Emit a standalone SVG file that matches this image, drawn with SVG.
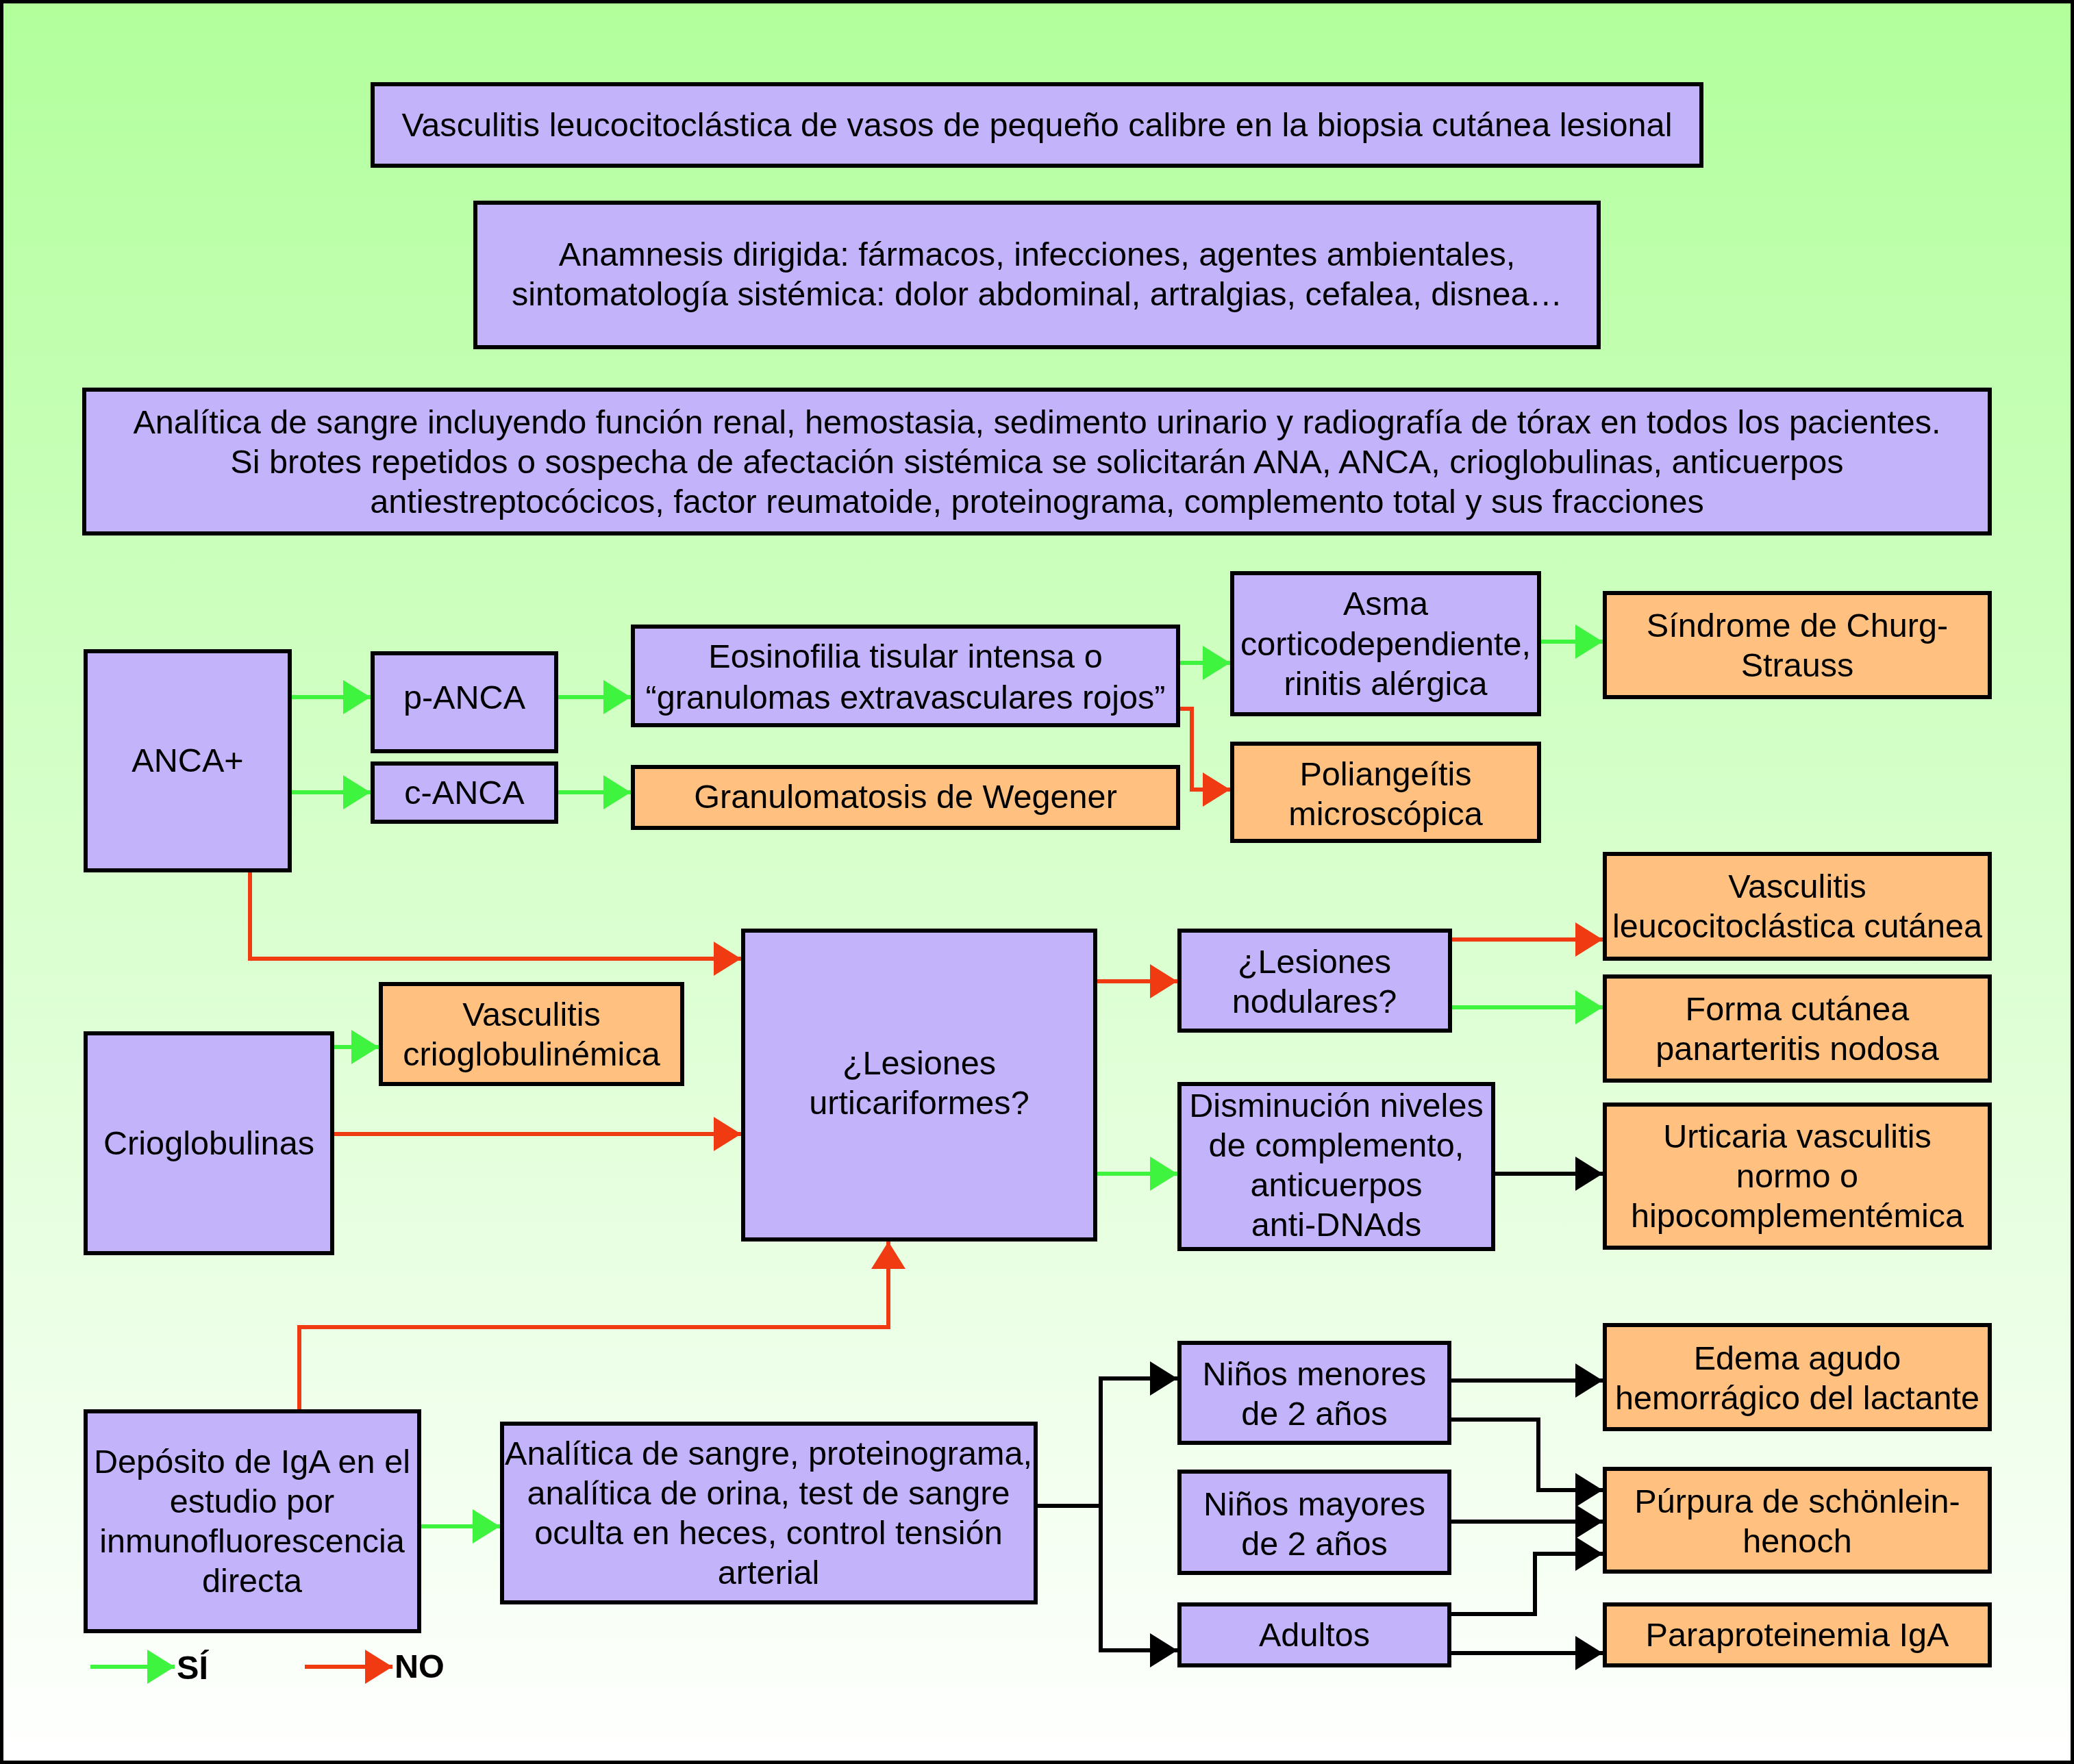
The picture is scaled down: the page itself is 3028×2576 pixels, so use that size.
<svg xmlns="http://www.w3.org/2000/svg" width="3028" height="2576" viewBox="0 0 3028 2576">
<defs>
<linearGradient id="bg" x1="0" y1="0" x2="0" y2="1">
<stop offset="0" stop-color="#b2ff9c"/>
<stop offset="1" stop-color="#ffffff"/>
</linearGradient>
<marker id="ag" markerUnits="userSpaceOnUse" markerWidth="40" markerHeight="50" refX="40" refY="25" orient="auto"><path d="M0,0 L40,25 L0,50 z" fill="#3ff43f"/></marker>
<marker id="ar" markerUnits="userSpaceOnUse" markerWidth="40" markerHeight="50" refX="40" refY="25" orient="auto"><path d="M0,0 L40,25 L0,50 z" fill="#f03a12"/></marker>
<marker id="ak" markerUnits="userSpaceOnUse" markerWidth="40" markerHeight="50" refX="40" refY="25" orient="auto"><path d="M0,0 L40,25 L0,50 z" fill="#000000"/></marker>
</defs>
<style>
.p{fill:#c3b3fb;stroke:#000;stroke-width:6}
.o{fill:#ffc080;stroke:#000;stroke-width:6}
text{font-family:"Liberation Sans",Arial,Helvetica,sans-serif;font-size:48.6px;fill:#000;text-anchor:middle}
.g{fill:none;stroke:#3ff43f;stroke-width:6;marker-end:url(#ag)}
.r{fill:none;stroke:#f03a12;stroke-width:6;marker-end:url(#ar)}
.k{fill:none;stroke:#000;stroke-width:6;marker-end:url(#ak)}
.kl{fill:none;stroke:#000;stroke-width:6}
.b{font-weight:bold;text-anchor:start}
</style>
<rect x="2.5" y="2.5" width="3023" height="2571" fill="url(#bg)" stroke="#000" stroke-width="5"/>

<g id="connectors">
<path class="g" d="M426,1018 H541"/>
<path class="g" d="M426,1157 H541"/>
<path class="g" d="M815,1018 H921"/>
<path class="g" d="M815,1157 H921"/>
<path class="g" d="M1723,968 H1796"/>
<path class="g" d="M2250,937 H2340"/>
<path class="g" d="M2120,1471 H2340"/>
<path class="g" d="M1602,1714 H1719"/>
<path class="g" d="M488,1529 H553"/>
<path class="g" d="M615,2229 H730"/>
<path class="r" d="M1723,1035 H1740 V1153 H1796"/>
<path class="r" d="M365,1274 V1400 H1082"/>
<path class="r" d="M1602,1433 H1719"/>
<path class="r" d="M2120,1372 H2340"/>
<path class="r" d="M488,1656 H1082"/>
<path class="r" d="M437,2058 V1938 H1297 V1813"/>
<path class="kl" d="M1515,2199 H1607 M1607,2010 V2413"/>
<path class="k" d="M1604,2013 H1719"/>
<path class="k" d="M1604,2410 H1719"/>
<path class="k" d="M2183,1714 H2340"/>
<path class="k" d="M2119,2016 H2340"/>
<path class="k" d="M2119,2073 H2246 V2176 H2340"/>
<path class="k" d="M2119,2222 H2340"/>
<path class="k" d="M2119,2357 H2241 V2269 H2340"/>
<path class="k" d="M2119,2414 H2340"/>
</g>

<g id="n-titulo"><rect class="p" x="544" y="123" width="1940" height="119"/>
<text x="1514" y="199">Vasculitis leucocitoclástica de vasos de pequeño calibre en la biopsia cutánea lesional</text></g>

<g id="n-anamnesis"><rect class="p" x="694" y="296" width="1640" height="211"/>
<text x="1514" y="388">Anamnesis dirigida: fármacos, infecciones, agentes ambientales,</text>
<text x="1514" y="446">sintomatología sistémica: dolor abdominal, artralgias, cefalea, disnea…</text></g>

<g id="n-analitica"><rect class="p" x="123" y="569" width="2782" height="210"/>
<text x="1514" y="633">Analítica de sangre incluyendo función renal, hemostasia, sedimento urinario y radiografía de tórax en todos los pacientes.</text>
<text x="1514" y="691">Si brotes repetidos o sospecha de afectación sistémica se solicitarán ANA, ANCA, crioglobulinas, anticuerpos</text>
<text x="1514" y="749">antiestreptocócicos, factor reumatoide, proteinograma, complemento total y sus fracciones</text></g>

<g id="n-anca"><rect class="p" x="125" y="951" width="298" height="320"/>
<text x="274" y="1127">ANCA+</text></g>

<g id="n-panca"><rect class="p" x="544" y="954" width="268" height="143"/>
<text x="678" y="1035">p-ANCA</text></g>

<g id="n-canca"><rect class="p" x="544" y="1115" width="268" height="85"/>
<text x="678" y="1174">c-ANCA</text></g>

<g id="n-eosinofilia"><rect class="p" x="924" y="915" width="796" height="144"/>
<text x="1322" y="975">Eosinofilia tisular intensa o</text>
<text x="1322" y="1035">“granulomas extravasculares rojos”</text></g>

<g id="n-wegener"><rect class="o" x="924" y="1120" width="796" height="89"/>
<text x="1322" y="1180">Granulomatosis de Wegener</text></g>

<g id="n-asma"><rect class="p" x="1799" y="837" width="448" height="206"/>
<text x="2023" y="898">Asma</text>
<text x="2023" y="957">corticodependiente,</text>
<text x="2023" y="1015">rinitis alérgica</text></g>

<g id="n-poliangeitis"><rect class="o" x="1799" y="1086" width="448" height="142"/>
<text x="2023" y="1147">Poliangeítis</text>
<text x="2023" y="1205">microscópica</text></g>

<g id="n-churg"><rect class="o" x="2343" y="866" width="562" height="152"/>
<text x="2624" y="930">Síndrome de Churg-</text>
<text x="2624" y="988">Strauss</text></g>

<g id="n-vlc"><rect class="o" x="2343" y="1247" width="562" height="153"/>
<text x="2624" y="1311">Vasculitis</text>
<text x="2624" y="1369">leucocitoclástica cutánea</text></g>

<g id="n-nodulares"><rect class="p" x="1722" y="1359" width="395" height="146"/>
<text x="1919" y="1421">¿Lesiones</text>
<text x="1919" y="1479">nodulares?</text></g>

<g id="n-forma"><rect class="o" x="2343" y="1426" width="562" height="152"/>
<text x="2624" y="1490">Forma cutánea</text>
<text x="2624" y="1548">panarteritis nodosa</text></g>

<g id="n-urticariformes"><rect class="p" x="1085" y="1359" width="514" height="451"/>
<text x="1342" y="1569">¿Lesiones</text>
<text x="1342" y="1627">urticariformes?</text></g>

<g id="n-disminucion"><rect class="p" x="1722" y="1583" width="458" height="241"/>
<text x="1951" y="1631">Disminución niveles</text>
<text x="1951" y="1689">de complemento,</text>
<text x="1951" y="1747">anticuerpos</text>
<text x="1951" y="1805">anti-DNAds</text></g>

<g id="n-urticaria"><rect class="o" x="2343" y="1613" width="562" height="209"/>
<text x="2624" y="1676">Urticaria vasculitis</text>
<text x="2624" y="1734">normo o</text>
<text x="2624" y="1792">hipocomplementémica</text></g>

<g id="n-vcrio"><rect class="o" x="556" y="1437" width="440" height="146"/>
<text x="776" y="1498">Vasculitis</text>
<text x="776" y="1556">crioglobulinémica</text></g>

<g id="n-crio"><rect class="p" x="125" y="1509" width="360" height="321"/>
<text x="305" y="1686">Crioglobulinas</text></g>

<g id="n-iga"><rect class="p" x="125" y="2061" width="487" height="321"/>
<text x="368" y="2151">Depósito de IgA en el</text>
<text x="368" y="2209">estudio por</text>
<text x="368" y="2267">inmunofluorescencia</text>
<text x="368" y="2325">directa</text></g>

<g id="n-analitica2"><rect class="p" x="733" y="2079" width="779" height="261"/>
<text x="1122" y="2139">Analítica de sangre, proteinograma,</text>
<text x="1122" y="2197">analítica de orina, test de sangre</text>
<text x="1122" y="2255">oculta en heces, control tensión</text>
<text x="1122" y="2313">arterial</text></g>

<g id="n-menores"><rect class="p" x="1722" y="1961" width="394" height="146"/>
<text x="1919" y="2023">Niños menores</text>
<text x="1919" y="2081">de 2 años</text></g>

<g id="n-mayores"><rect class="p" x="1722" y="2149" width="394" height="148"/>
<text x="1919" y="2213">Niños mayores</text>
<text x="1919" y="2271">de 2 años</text></g>

<g id="n-adultos"><rect class="p" x="1722" y="2343" width="394" height="89"/>
<text x="1919" y="2404">Adultos</text></g>

<g id="n-edema"><rect class="o" x="2343" y="1935" width="562" height="152"/>
<text x="2624" y="2000">Edema agudo</text>
<text x="2624" y="2058">hemorrágico del lactante</text></g>

<g id="n-purpura"><rect class="o" x="2343" y="2145" width="562" height="150"/>
<text x="2624" y="2209">Púrpura de schönlein-</text>
<text x="2624" y="2267">henoch</text></g>

<g id="n-paraproteinemia"><rect class="o" x="2343" y="2343" width="562" height="89"/>
<text x="2624" y="2404">Paraproteinemia IgA</text></g>

<g id="legend">
<path class="g" d="M132,2434 H255"/>
<text class="b" x="258" y="2452">SÍ</text>
<path class="r" d="M445,2434 H573"/>
<text class="b" x="576" y="2450">NO</text>
</g>
</svg>
